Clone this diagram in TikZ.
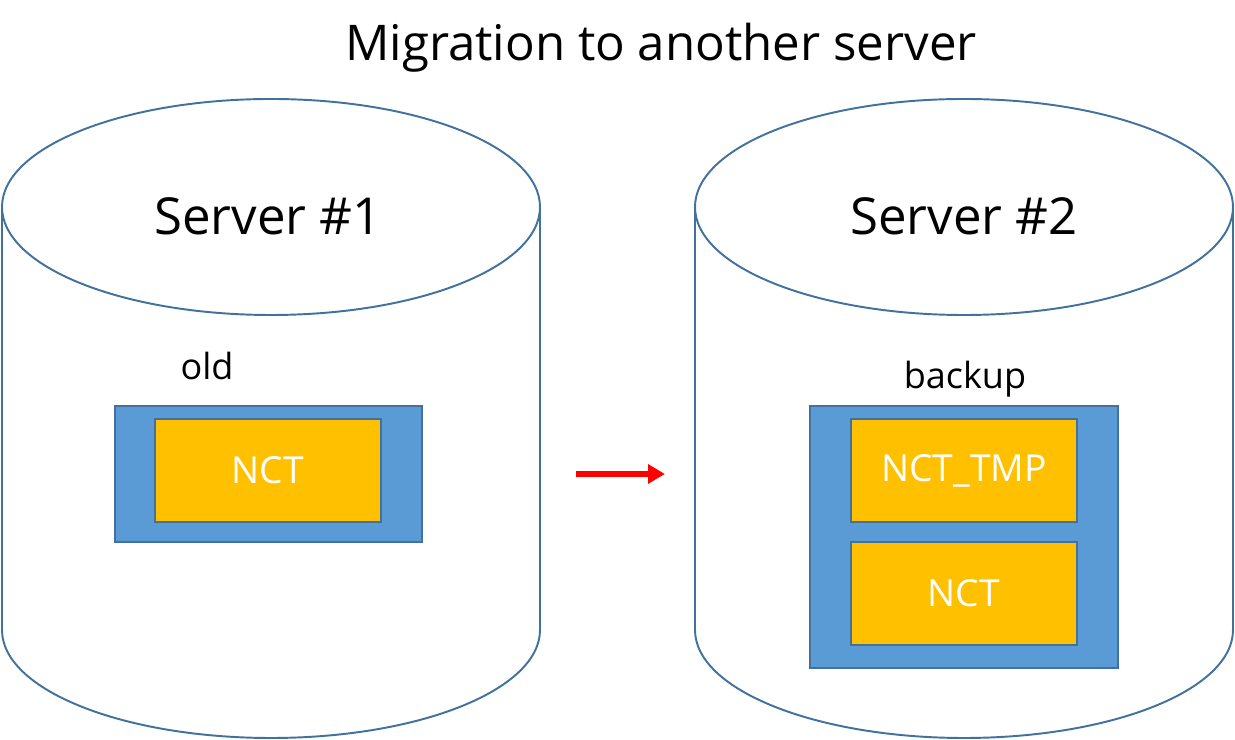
\documentclass[tikz,border=0pt]{standalone}
\usepackage{fontspec}
\setmainfont{Open Sans}
\usepackage{xcolor}
\usepackage{tikz}
\usetikzlibrary{arrows.meta}
\definecolor{edge}{HTML}{41719C}
\definecolor{tray}{HTML}{5B9BD5}
\definecolor{db}{HTML}{FFC000}
\definecolor{move}{HTML}{FF0000}
\tikzset{
  drum/.style={draw=edge, line width=1.1pt, fill=white},
  traybox/.style={draw=edge, line width=1.1pt, fill=tray, inner sep=0pt},
  dbbox/.style={draw=edge, line width=1.1pt, fill=db, inner sep=0pt,
    minimum width=4.52cm, minimum height=2.06cm, text=white,
    font=\fontsize{21.2}{25}\selectfont},
  lab/.style={text=black, font=\fontsize{20.5}{25}\selectfont},
  srv/.style={text=black, font=\fontsize{29}{35}\selectfont},
}

\begin{document}
\begin{tikzpicture}[x=0.02cm, y=0.02cm]
  \useasboundingbox (0,0) rectangle (1235,740);

  % title
  \node[text=black, font=\fontsize{28}{34}\selectfont] (title) at (661,692) {Migration to another server};

  % the two servers (cylinders)
  \foreach \cx/\nm in {271/one, 964/two} {
    \draw[drum] (\cx-269,533) -- (\cx-269,110) arc (180:360:269 and 108) -- (\cx+269,533);
    \draw[drum] (\cx,533) ellipse (269 and 108);
  }
  \node[srv] (srvA) at (268,524) {Server \#1};
  \node[srv] (srvB) at (964,524) {Server \#2};

  % old
  \node[lab] (oldlab) at (207,374) {old};
  \node[traybox, minimum width=6.14cm, minimum height=2.72cm] (old) at (268.5,266) {};
  \node[dbbox] (nctA) at (268,269.5) {NCT};

  % backup
  \node[lab] (backlab) at (965,361) {backup};
  \node[traybox, minimum width=6.16cm, minimum height=5.24cm] (backup) at (964,203) {};
  \node[dbbox] (tmp) at (964,269.5) {NCT\_TMP};
  \node[dbbox] (nctB) at (964,146.5) {NCT};

  % migration arrow
  \coordinate (from) at (576,266);
  \coordinate (to) at (665,266);
  \draw[move, line width=3.2pt, -{Triangle[length=9.6pt, width=10.5pt]}] (from) -- (to);
\end{tikzpicture}
\end{document}
